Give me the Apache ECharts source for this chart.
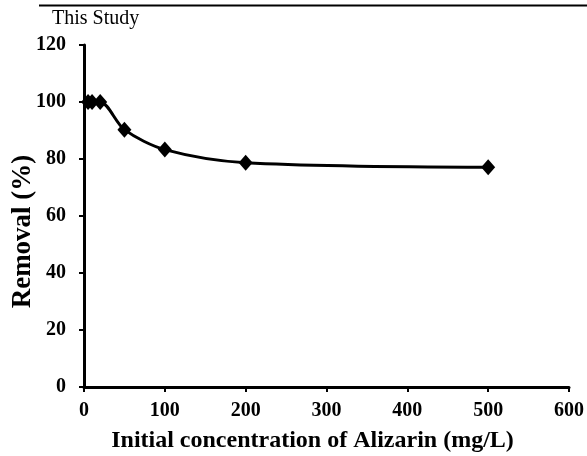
<!DOCTYPE html>
<html><head><meta charset="utf-8">
<script src="https://cdn.jsdelivr.net/npm/echarts@6/dist/echarts.min.js"></script>
<style>html,body{margin:0;padding:0;background:#fff}#c{width:587px;height:456px}</style>
</head><body><div id="c"></div>
<script>
const concentrations = [5, 10, 20, 50, 100, 200, 500];
const removal = [100, 100, 100, 90.3, 83.3, 78.7, 77.1];
const xTicks = [0, 100, 200, 300, 400, 500, 600];
const yTicks = [0, 20, 40, 60, 80, 100, 120];
const seriesLabel = 'This Study';
const xTitle = 'Initial concentration of Alizarin (mg/L)';
const yTitle = 'Removal (%)';

const font = 'Liberation Serif';
const chart = echarts.init(document.getElementById('c'));
chart.setOption({
  animation: false,
  grid: {left: 84, right: 18, top: 45, bottom: 69, containLabel: false, outerBoundsMode: 'none'},
  graphic: [
    {type: 'line', shape: {x1: 39, y1: 5.5, x2: 587, y2: 5.5}, style: {stroke: '#000', lineWidth: 2}},
    {type: 'text', left: 52, top: 9, style: {text: seriesLabel, font: '20px "Liberation Serif"', fill: '#000'}}
  ],
  xAxis: {
    type: 'value', min: xTicks[0], max: xTicks[xTicks.length - 1], interval: 100,
    name: xTitle, nameLocation: 'middle', nameGap: 42, nameMoveOverlap: false,
    nameTextStyle: {fontFamily: font, fontWeight: 'bold', fontSize: 24, color: '#000', padding: [0, 28, 0, 0]},
    axisLine: {lineStyle: {color: '#000', width: 3}},
    axisTick: {length: 5, lineStyle: {color: '#000', width: 2}},
    axisLabel: {fontFamily: font, fontWeight: 'bold', fontSize: 20, color: '#000', margin: 14},
    splitLine: {show: false}
  },
  yAxis: {
    type: 'value', min: yTicks[0], max: yTicks[yTicks.length - 1], interval: 20,
    name: yTitle, nameLocation: 'middle', nameGap: 47, nameRotate: 90, nameMoveOverlap: false,
    nameTextStyle: {fontFamily: font, fontWeight: 'bold', fontSize: 27, color: '#000', padding: [0, 31, 0, 0]},
    axisLine: {lineStyle: {color: '#000', width: 3}},
    axisTick: {length: 5, lineStyle: {color: '#000', width: 2}},
    axisLabel: {fontFamily: font, fontWeight: 'bold', fontSize: 20, color: '#000', margin: 18},
    splitLine: {show: false}
  },
  series: [{
    type: 'line', smooth: 0.3,
    data: concentrations.map((c, i) => [c, removal[i]]),
    symbol: 'diamond', symbolSize: [14, 16],
    itemStyle: {color: '#000'},
    lineStyle: {color: '#000', width: 3}
  }]
});
</script></body></html>
